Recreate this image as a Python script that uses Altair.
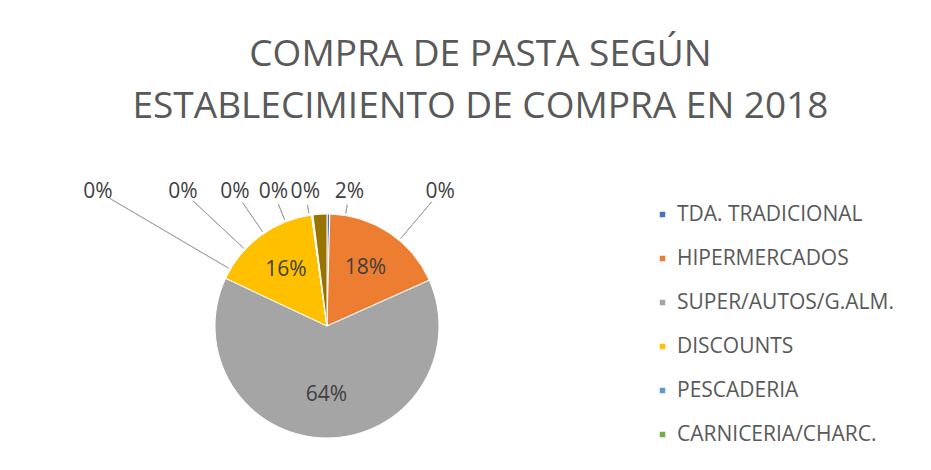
import altair as alt
import pandas as pd

categories = ["TDA. TRADICIONAL", "HIPERMERCADOS", "SUPER/AUTOS/G.ALM.", "DISCOUNTS",
              "PESCADERIA", "CARNICERIA/CHARC.", "FRUTERIA", "ECONOMATOS/COOP.",
              "MERCADILLOS", "RESTO CANALES"]
values = [0.4, 17.9, 63.7, 15.8, 0.02, 0.03, 0.03, 0.04, 0.08, 2.0]
colors = ["#4472C4", "#ED7D31", "#A5A5A5", "#FFC000", "#5B9BD5", "#70AD47",
          "#264478", "#9E480E", "#636363", "#997300"]
legend_shown = categories[:6]
title_lines = ["COMPRA DE PASTA SEGÚN", "ESTABLECIMIENTO DE COMPRA EN 2018"]

df = pd.DataFrame({"cat": categories, "value": values, "idx": list(range(len(categories)))})

R = 112
CX = 319
CY = 186
PI = 3.141592653589793

base = alt.Chart(df).transform_joinaggregate(
    total="sum(value)"
).transform_window(
    cum="sum(value)", sort=[alt.SortField("idx")], frame=[None, 0]
).transform_calculate(
    pct="datum.value / datum.total",
    mid="(datum.cum - datum.value / 2) / datum.total * 2 * PI",
    small="datum.value / datum.total < 0.03",
).transform_calculate(
    amid="datum.mid < 0.3 ? datum.mid + 2 * PI : datum.mid"
).transform_window(
    k="row_number()", sort=[alt.SortField("amid")], groupby=["small"]
).transform_calculate(
    ltheta=("datum.small ? (2 * PI - 1.04 + (datum.k - 1) * 0.22"
            " + (datum.k > 5 ? (datum.k - 5) * (datum.k - 5) * 0.105 : 0)) : datum.mid"),
).transform_calculate(
    lrad="datum.small ? 1.2 / cos(datum.ltheta) : 0.62",
    ltheta2="datum.ltheta + 0.0005",
)

theta_scale = alt.Scale(domain=[0, 2 * PI], range=[0, 2 * PI])
rad_scale = alt.Scale(domain=[0, 1], range=[0, R], zero=True)

pie = alt.Chart(df).mark_arc(outerRadius=R, stroke="white", strokeWidth=1).encode(
    theta=alt.Theta("value:Q", stack=True),
    order=alt.Order("idx:Q"),
    color=alt.Color(
        "cat:N",
        scale=alt.Scale(domain=categories, range=colors),
        legend=alt.Legend(
            title=None, values=legend_shown, orient="none", legendX=644, legendY=64,
            symbolType="square", symbolSize=49, labelFontSize=21, labelFont="Open Sans",
            labelColor="#595959", rowPadding=22, labelOffset=4, labelLimit=400,
        ),
    ),
    x=alt.value(CX), y=alt.value(CY),
)

leaders = base.transform_filter("datum.small").transform_calculate(
    r1="1.02", r2="datum.lrad - 0.12"
).mark_arc(stroke="#A6A6A6", strokeWidth=1, fill=None).encode(
    theta=alt.Theta("ltheta:Q", scale=theta_scale, stack=None),
    theta2="ltheta2:Q",
    radius=alt.Radius("r1:Q", scale=rad_scale),
    radius2="r2:Q",
    x=alt.value(CX), y=alt.value(CY),
)

labels = base.mark_text(font="Open Sans", fontSize=21, color="#404040").encode(
    theta=alt.Theta("ltheta:Q", scale=theta_scale, stack=None),
    radius=alt.Radius("lrad:Q", scale=rad_scale),
    text=alt.Text("pct:Q", format=".0%"),
    x=alt.value(CX), y=alt.value(CY),
)

chart = alt.layer(pie, leaders, labels).properties(
    width=915, height=300,
    title=alt.TitleParams(text=title_lines, font="Open Sans", fontSize=37, fontWeight="normal",
                          color="#595959", anchor="middle", lineHeight=52, offset=14, dx=15),
    padding={"top": 28, "left": 0, "right": 0, "bottom": 0},
).configure_view(stroke=None).resolve_scale(theta="independent")

chart.save("out.html", embed_options={"renderer": "svg", "actions": False})
